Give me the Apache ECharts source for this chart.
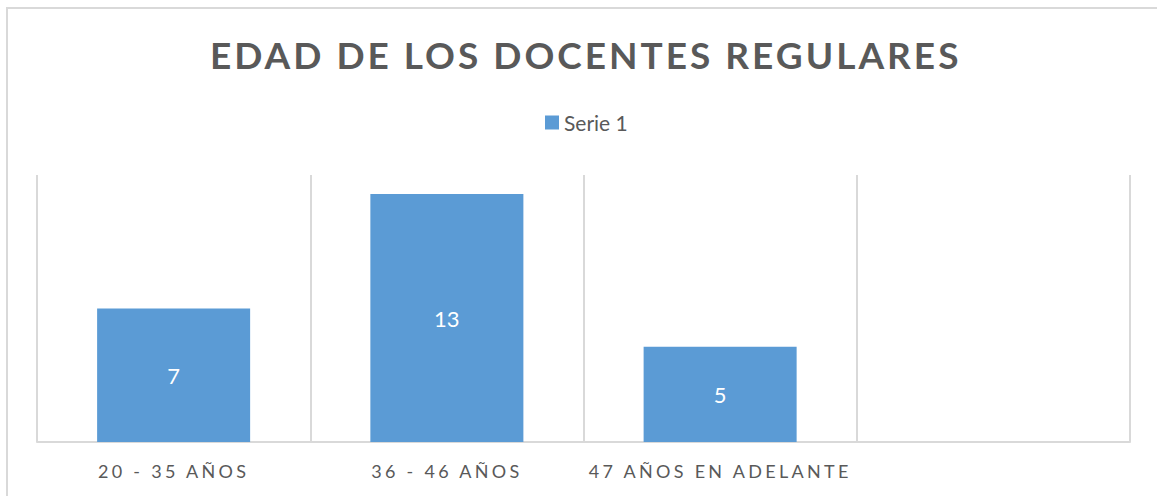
<!DOCTYPE html>
<html>
<head>
<meta charset="utf-8">
<script src="https://cdn.jsdelivr.net/npm/echarts@6/dist/echarts.min.js"></script>
<style>
html,body{margin:0;padding:0;background:#fff;}
#chart{width:1157px;height:496px;}
/* spaced caps, as in the original office chart */
#chart text[style*="37px"]{letter-spacing:3px;}
#chart text[style*="18px"]{letter-spacing:3.3px;}
</style>
</head>
<body>
<div id="chart"></div>
<script>
var categories = ['20 - 35 AÑOS', '36 - 46 AÑOS', '47 AÑOS EN ADELANTE', ''];
var serie1 = [7, 13, 5, null];
var seriesName = 'Serie 1';
var chartTitle = 'EDAD DE LOS DOCENTES REGULARES';

var grey = '#595959';
var lineGrey = '#D9D9D9';

var chart = echarts.init(document.getElementById('chart'), null, {renderer: 'svg'});
chart.setOption({
    animation: false,
    backgroundColor: '#fff',
    graphic: [{
        type: 'rect',
        shape: {x: 7, y: 8, width: 1200, height: 600},
        style: {fill: 'none', stroke: lineGrey, lineWidth: 2},
        silent: true
    }],
    title: {
        text: chartTitle,
        left: 205,
        top: 31,
        textStyle: {fontFamily: 'Lato', fontSize: 37, fontWeight: 'bold', color: grey}
    },
    legend: {
        top: 112,
        left: 545,
        icon: 'rect',
        itemWidth: 14,
        itemHeight: 14,
        padding: 0,
        textStyle: {fontFamily: 'Lato', fontSize: 21, color: grey},
        data: [seriesName]
    },
    grid: {left: 37, right: 27, top: 175, bottom: 54},
    xAxis: {
        type: 'category',
        data: categories,
        axisTick: {show: false},
        axisLine: {lineStyle: {color: lineGrey, width: 2}},
        splitLine: {show: true, lineStyle: {color: lineGrey, width: 2}},
        axisLabel: {interval: 0, margin: 20, fontFamily: 'Lato', fontSize: 18, color: grey}
    },
    yAxis: {
        type: 'value',
        min: 0,
        max: 14,
        show: false,
        splitLine: {show: false}
    },
    series: [{
        name: seriesName,
        type: 'bar',
        data: serie1,
        barWidth: '56%',
        itemStyle: {color: '#5B9BD5'},
        label: {show: true, position: 'inside', fontFamily: 'Lato', fontSize: 22, color: '#fff'}
    }]
});
</script>
</body>
</html>
